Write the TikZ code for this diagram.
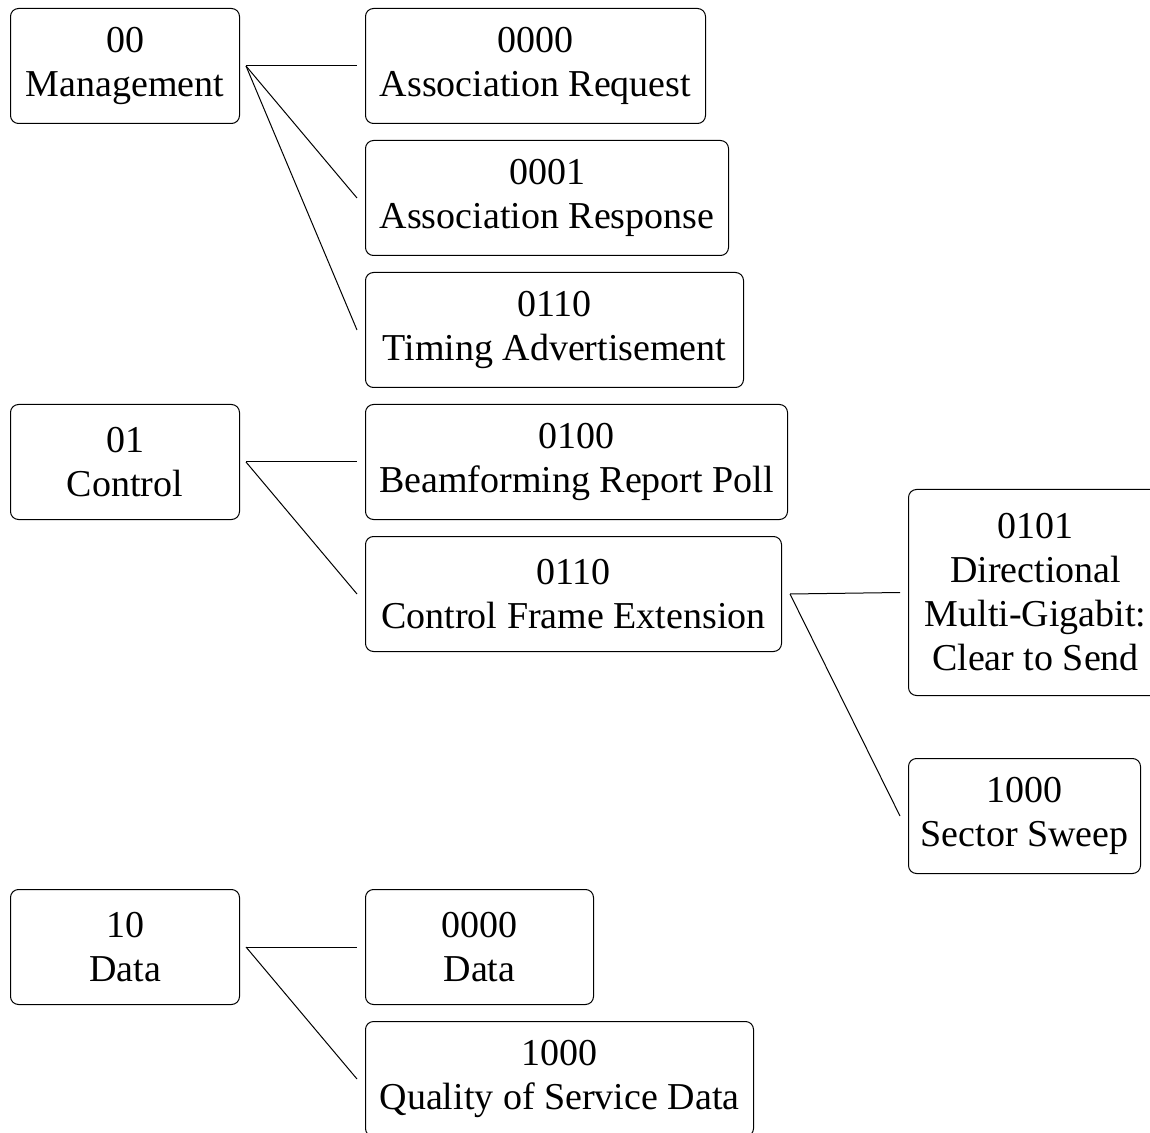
\documentclass[tikz,border=0pt]{standalone}
\usepackage{fontspec}
\setmainfont{Liberation Serif}
\begin{document}
\begin{tikzpicture}[x=0.5pt,y=-0.5pt,
		frame/.style={draw,rounded corners=4pt,align=center,anchor=north west,minimum height=57.5pt,inner sep=0pt,line width=0.5pt,font=\fontsize{19}{22}\selectfont},
		link/.style={line width=0.5pt}]
	\useasboundingbox (0,0) rectangle (1150,1133);
	\node[frame,minimum width=114.5pt] (mgmt) at (10,8) {00\\Management};
	\node[frame,minimum width=170pt] (assocreq) at (365,8) {0000\\Association Request};
	\node[frame,minimum width=181.5pt] (assocresp) at (365,140) {0001\\Association Response};
	\node[frame,minimum width=189pt] (timing) at (365,272) {0110\\Timing Advertisement};
	\node[frame,minimum width=114.5pt] (ctrl) at (10,404) {01\\Control};
	\node[frame,minimum width=211pt] (bfpoll) at (365,404) {0100\\Beamforming Report Poll};
	\node[frame,minimum width=208pt] (cfe) at (365,536) {0110\\Control Frame Extension};
	\node[frame,minimum width=127pt,minimum height=103pt] (dmgcts) at (908,489) {0101\\Directional\\Multi-Gigabit:\\Clear to Send};
	\node[frame,minimum width=116pt] (ssw) at (908,758) {1000\\Sector Sweep};
	\node[frame,minimum width=114.5pt] (data) at (10,889) {10\\Data};
	\node[frame,minimum width=114pt] (datadata) at (365,889) {0000\\Data};
	\node[frame,minimum width=194pt] (qosdata) at (365,1021) {1000\\Quality of Service Data};
	\draw[link] ([xshift=3pt]mgmt.east) to ([xshift=-4pt]assocreq.west);
	\draw[link] ([xshift=3pt]mgmt.east) to ([xshift=-4pt]assocresp.west);
	\draw[link] ([xshift=3pt]mgmt.east) to ([xshift=-4pt]timing.west);
	\draw[link] ([xshift=3pt]ctrl.east) to ([xshift=-4pt]bfpoll.west);
	\draw[link] ([xshift=3pt]ctrl.east) to ([xshift=-4pt]cfe.west);
	\draw[link] ([xshift=4pt]cfe.east) to ([xshift=-4pt]dmgcts.west);
	\draw[link] ([xshift=4pt]cfe.east) to ([xshift=-4pt]ssw.west);
	\draw[link] ([xshift=3pt]data.east) to ([xshift=-4pt]datadata.west);
	\draw[link] ([xshift=3pt]data.east) to ([xshift=-4pt]qosdata.west);
\end{tikzpicture}
\end{document}
